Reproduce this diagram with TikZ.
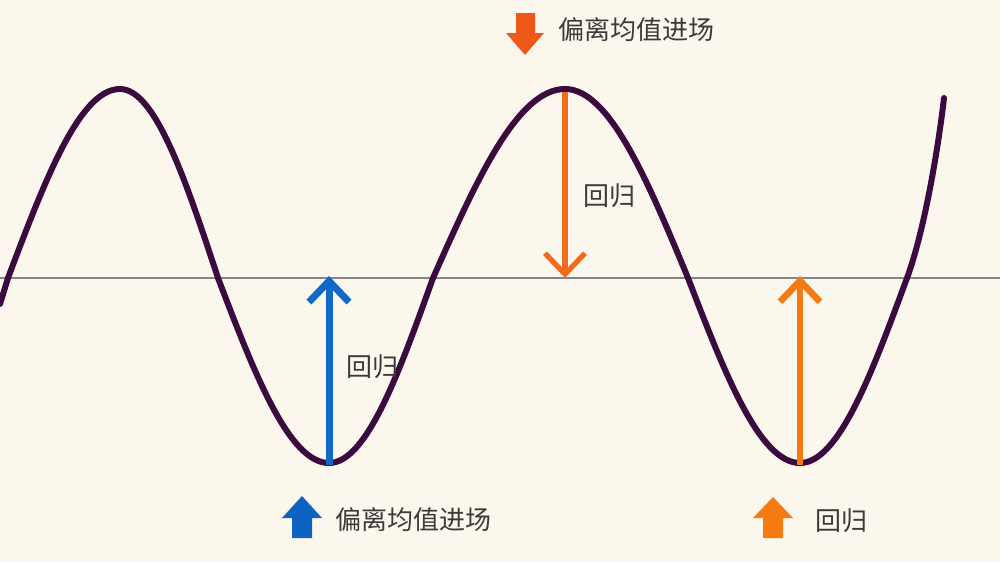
\documentclass[tikz,border=0pt]{standalone}
\usepackage{fontspec}
\newfontfamily\cjk{Noto Sans CJK SC}
\usetikzlibrary{arrows.meta}
\definecolor{bgc}{HTML}{FBF7EC}
\definecolor{wave}{HTML}{3B0B3F}
\definecolor{axisc}{HTML}{80868A}
\definecolor{blueA}{HTML}{1168C8}
\definecolor{blueB}{HTML}{0D62C4}
\definecolor{orgA}{HTML}{F26A1B}
\definecolor{orgB}{HTML}{F57A12}
\definecolor{orgC}{HTML}{F0581A}
\definecolor{txt}{HTML}{3A3A3A}
\tikzset{
  lbl/.style={font=\cjk\fontsize{13pt}{15pt}\selectfont, text=txt, inner sep=0pt, anchor=west},
  wavepath/.style={draw=wave, line width=3pt, line cap=round, line join=round},
  revert/.style={line width=#1, -{Straight Barb[length=10.5pt,width=20pt]}},
}
\begin{document}
\begin{tikzpicture}[x=0.5pt,y=-0.5pt]
\fill[bgc] (0,0) rectangle (1000,562);
\useasboundingbox (0,0) rectangle (1000,562);
% mean line
\coordinate (mL) at (0,278);
\coordinate (mR) at (1000,278);
\draw[axisc, line width=1pt] (mL) -- (mR);
% wave
\draw[wavepath] (0,304) -- (8,278) sin (120,89) cos (218,278) sin (329,463) cos (433,278)
  sin (565,89) cos (688,278) sin (800,463) cos (907,278)
  .. controls (924,232) and (938,150) .. (944,98);
% return arrows
\coordinate (pk) at (565,92);
\coordinate (pkM) at (565,278);
\coordinate (tr1) at (329,465);
\coordinate (tr1M) at (329,276);
\coordinate (tr2) at (800,465);
\coordinate (tr2M) at (800,276);
\draw[orgA, revert=2.6pt] (pk) -- (pkM);
\draw[blueA, revert=3.5pt] (tr1) -- (tr1M);
\draw[orgB, revert=3.3pt] (tr2) -- (tr2M);
\node[lbl] (r1) at (583,196) {回归};
\node[lbl] (r2) at (346,367) {回归};
% block arrows
\fill[orgC] (516,13) -- (535,13) -- (535,33) -- (544,33) -- (525,55) -- (506,33) -- (516,33) -- cycle;
\fill[blueB] (292,538) -- (312,538) -- (312,518) -- (322,518) -- (302,496) -- (282,518) -- (292,518) -- cycle;
\fill[orgB] (763,538) -- (783,538) -- (783,518) -- (793,518) -- (773,497) -- (753,518) -- (763,518) -- cycle;
\node[lbl] (t1) at (558,30) {偏离均值进场};
\node[lbl] (t2) at (335,520) {偏离均值进场};
\node[lbl] (t3) at (815,521) {回归};
\end{tikzpicture}
\end{document}
